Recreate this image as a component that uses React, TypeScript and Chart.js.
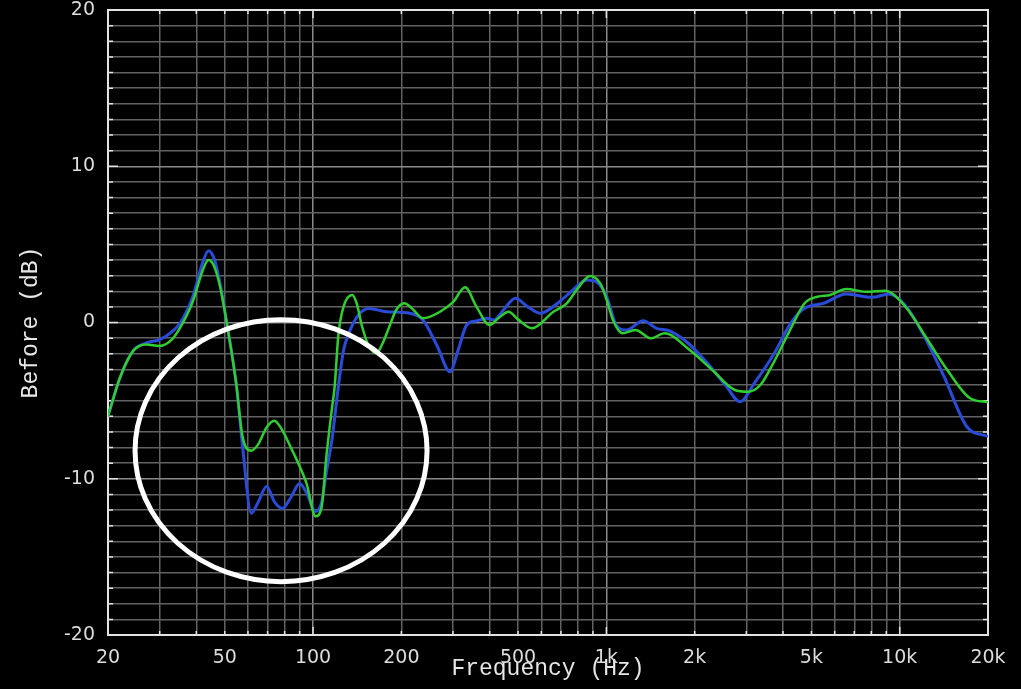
import React, { useEffect, useRef } from 'react';
import { Chart, registerables } from 'chart.js';

Chart.register(...registerables);

// Frequencies (Hz) and levels (dB)
const BLUE_FREQ = [20, 22, 24.4, 27, 30, 33, 35.2, 38.9, 42, 44, 46, 48.2, 50.6, 54.7, 57.5, 61.6, 65, 69.5, 74, 78.6, 84, 90, 95, 102, 107, 111, 116, 122, 127, 133, 143, 155, 178, 214, 237, 265, 293, 312, 334, 360, 392, 413, 450, 489, 540, 595, 692, 760, 858, 925, 1000, 1080, 1170, 1335, 1480, 1640, 1875, 2185, 2546, 2855, 3190, 3706, 4285, 4740, 5510, 6574, 8060, 9180, 10420, 12150, 14170, 16940, 20000];
const BLUE_DB = [-6.0, -3.5, -1.8, -1.3, -1.1, -0.6, -0.05, 1.65, 3.8, 4.6, 4.1, 2.5, 0.16, -3.9, -7.9, -12.2, -11.5, -10.5, -11.5, -11.9, -11.2, -10.3, -10.9, -12.1, -11.5, -9.6, -7.5, -4.1, -1.8, -0.6, 0.5, 0.9, 0.69, 0.59, 0.16, -1.5, -3.15, -1.8, -0.16, 0.1, 0.27, 0.16, 0.9, 1.55, 1.0, 0.59, 1.33, 2.0, 2.72, 2.6, 1.7, -0.16, -0.48, 0.12, -0.37, -0.54, -1.23, -2.5, -4.0, -5.07, -3.9, -2.08, 0.05, 0.91, 1.23, 1.82, 1.61, 1.82, 1.12, -0.91, -3.47, -6.67, -7.3];

const GREEN_FREQ = [20, 22, 24.4, 27, 30, 33, 35.2, 38.9, 42, 44, 46, 48.2, 50.6, 54.7, 57.5, 61.6, 65, 69.5, 73.8, 78.6, 84, 90, 95, 102, 107, 111, 116, 118.5, 122, 127, 136, 141, 147, 155, 164.6, 173, 182, 192, 205, 220, 237, 271, 300, 330, 361, 400, 430, 464, 500, 557, 660, 733, 800, 880, 953, 1003, 1053, 1136, 1255, 1424, 1575, 1924, 2296, 2740, 3030, 3350, 3706, 4285, 4740, 5240, 5793, 6574, 7670, 8940, 9410, 10680, 12460, 14530, 17380, 20000];
const GREEN_DB = [-6.0, -3.5, -1.8, -1.4, -1.5, -1.1, -0.35, 1.33, 3.3, 4.0, 3.6, 2.3, 0.16, -3.9, -7.3, -8.2, -7.8, -6.7, -6.28, -6.9, -8.0, -9.2, -10.3, -12.4, -11.8, -8.6, -5.5, -4.1, -0.8, 1.0, 1.76, 1.2, -0.27, -1.5, -1.97, -1.3, -0.27, 0.8, 1.23, 0.8, 0.27, 0.69, 1.3, 2.25, 1.0, -0.16, 0.3, 0.69, 0.2, -0.37, 0.69, 1.23, 2.2, 2.98, 2.5, 1.44, 0.16, -0.69, -0.48, -1.01, -0.69, -1.76, -3.04, -4.32, -4.43, -4.0, -2.61, -0.27, 1.23, 1.65, 1.76, 2.14, 1.97, 2.04, 1.87, 0.8, -1.12, -3.04, -4.85, -5.1];

// Axis ticks / grid
const X_GRID = [20, 30, 40, 50, 60, 70, 80, 90, 100, 200, 300, 400, 500, 600, 700, 800, 900, 1000, 2000, 3000, 4000, 5000, 6000, 7000, 8000, 9000, 10000, 20000];
const X_LABELS = [20, 50, 100, 200, 500, 1000, 2000, 5000, 10000, 20000];
const X_DECADES = [100, 1000, 10000];
const Y_LABELS = [-20, -10, 0, 10, 20];

// Highlight ellipse (annotation)
const MARK = { freq: 77.8, db: -8.2, rx: 146, ry: 131, width: 5, color: '#ffffff' };

const fmtHz = (v: number) => (v >= 1000 ? `${v / 1000}k` : `${v}`);

export default function App() {
  const ref = useRef<HTMLCanvasElement | null>(null);

  useEffect(() => {
    if (!ref.current) return;
    document.body.style.margin = '0';
    document.body.style.background = '#000';

    const frame = {
      id: 'frame',
      beforeDraw(chart: any) {
        const { ctx, width, height } = chart;
        ctx.save();
        ctx.fillStyle = '#000';
        ctx.fillRect(0, 0, width, height);
        ctx.restore();
      },
      beforeDatasetsDraw(chart: any) {
        const { ctx, chartArea: a, scales } = chart;
        ctx.save();
        ctx.strokeStyle = '#e2e2e2';
        ctx.lineWidth = 1.5;
        for (let v = -19; v <= 19; v++) {
          const y = scales.y.getPixelForValue(v);
          const len = v % 10 === 0 ? 10 : 5;
          ctx.beginPath();
          ctx.moveTo(a.left, y);
          ctx.lineTo(a.left + len, y);
          ctx.moveTo(a.right, y);
          ctx.lineTo(a.right - len, y);
          ctx.stroke();
        }
        X_GRID.forEach((f) => {
          const x = scales.x.getPixelForValue(f);
          const len = X_DECADES.includes(f) ? 8 : 4;
          ctx.beginPath();
          ctx.moveTo(x, a.top);
          ctx.lineTo(x, a.top + len);
          ctx.moveTo(x, a.bottom);
          ctx.lineTo(x, a.bottom - len);
          ctx.stroke();
        });
        ctx.lineWidth = 2;
        ctx.strokeRect(a.left, a.top, a.right - a.left, a.bottom - a.top);
        ctx.restore();
      },
      afterDatasetsDraw(chart: any) {
        const { ctx, scales } = chart;
        const cx = scales.x.getPixelForValue(MARK.freq);
        const cy = scales.y.getPixelForValue(MARK.db);
        ctx.save();
        ctx.strokeStyle = MARK.color;
        ctx.lineWidth = MARK.width;
        ctx.beginPath();
        ctx.ellipse(cx, cy, MARK.rx, MARK.ry, 0, 0, Math.PI * 2);
        ctx.stroke();
        ctx.restore();
      },
    };

    const chart = new Chart(ref.current, {
      type: 'line',
      data: {
        datasets: [
          {
            label: 'After',
            data: GREEN_FREQ.map((f, i) => ({ x: f, y: GREEN_DB[i] })),
            borderColor: '#2fcf2f',
            borderWidth: 2.5,
            pointRadius: 0,
            cubicInterpolationMode: 'monotone',
            fill: false,
          },
          {
            label: 'Before',
            data: BLUE_FREQ.map((f, i) => ({ x: f, y: BLUE_DB[i] })),
            borderColor: '#2a4bd8',
            borderWidth: 3,
            pointRadius: 0,
            cubicInterpolationMode: 'monotone',
            fill: false,
          },
        ],
      },
      options: {
        animation: false,
        responsive: false,
        maintainAspectRatio: false,
        layout: { padding: { left: 0, right: 33, top: 10, bottom: 0 } },
        plugins: { legend: { display: false }, tooltip: { enabled: false } },
        scales: {
          x: {
            type: 'logarithmic',
            min: 20,
            max: 20000,
            afterBuildTicks: (s: any) => {
              s.ticks = X_GRID.map((v) => ({ value: v }));
            },
            afterFit: (s: any) => {
              s.height = 54;
              s.paddingLeft = 0;
              s.paddingRight = 0;
            },
            border: { display: false },
            grid: {
              drawTicks: false,
              lineWidth: 1.5,
              color: (c: any) => (X_DECADES.includes(c.tick?.value) ? '#8a8a8a' : '#626262'),
            },
            ticks: {
              autoSkip: false,
              maxRotation: 0,
              padding: 12,
              color: '#dcdcdc',
              font: { family: 'DejaVu Sans', size: 19 },
              callback: (v: any) => (X_LABELS.includes(Number(v)) ? fmtHz(Number(v)) : ''),
            },
            title: {
              display: true,
              text: 'Frequency (Hz)',
              color: '#e6e6e6',
              font: { family: 'Liberation Mono', size: 23 },
              padding: { top: 0, bottom: 6 },
            },
          },
          y: {
            min: -20,
            max: 20,
            afterFit: (s: any) => {
              s.width = 108;
              s.paddingTop = 0;
              s.paddingBottom = 0;
            },
            border: { display: false },
            grid: {
              drawTicks: false,
              lineWidth: 1.5,
              color: (c: any) => (c.tick && c.tick.value % 10 === 0 ? '#8a8a8a' : '#626262'),
            },
            ticks: {
              stepSize: 1,
              maxTicksLimit: 41,
              autoSkip: false,
              padding: 13,
              color: '#dcdcdc',
              font: { family: 'DejaVu Sans', size: 19 },
              callback: (v: any) => (Y_LABELS.includes(Number(v)) ? String(v) : ''),
            },
            title: {
              display: true,
              text: 'Before (dB)',
              color: '#e6e6e6',
              font: { family: 'Liberation Mono', size: 23 },
              padding: { top: 17, bottom: 0 },
            },
          },
        },
      },
      plugins: [frame],
    } as any);

    return () => chart.destroy();
  }, []);

  return (
    <div style={{ position: 'fixed', left: 0, top: 0, width: 1021, height: 689, background: '#000' }}>
      <canvas ref={ref} width={1021} height={689} style={{ width: 1021, height: 689, display: 'block' }} />
    </div>
  );
}
